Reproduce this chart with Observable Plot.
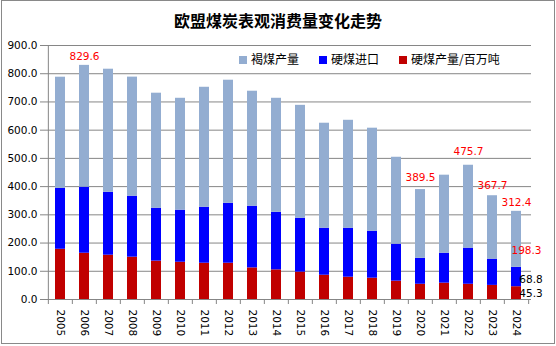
<!DOCTYPE html>
<html><head><meta charset="utf-8">
<script src="https://cdn.jsdelivr.net/npm/d3@7"></script>
<script src="https://cdn.jsdelivr.net/npm/@observablehq/plot@0.6"></script>
<style>
body{margin:0;background:#fff;}
#wrap{position:relative;width:556px;height:346px;overflow:hidden;background:#fff;}
#frame{position:absolute;left:1px;top:0px;width:552px;height:342px;border:1px solid #898989;pointer-events:none;}
#title{position:absolute;left:0;top:9px;width:556px;text-align:center;font-family:"Noto Sans CJK SC",sans-serif;font-weight:bold;font-size:16px;line-height:22px;color:#000;}
.lg{position:absolute;top:51px;height:16px;line-height:16px;font-family:"Noto Sans CJK SC",sans-serif;font-size:12px;color:#000;white-space:nowrap;}
.sw{display:inline-block;width:8px;height:8px;margin-right:4px;vertical-align:middle;position:relative;top:-1px;}
#chart{position:absolute;left:0;top:0;}
</style></head>
<body>
<div id="wrap">
  <div id="chart"></div>
  <div id="title">欧盟煤炭表观消费量变化走势</div>
  <div id="legend"></div>
  <div id="frame"></div>
</div>
<script>
const years = ["2005","2006","2007","2008","2009","2010","2011","2012","2013","2014",
               "2015","2016","2017","2018","2019","2020","2021","2022","2023","2024"];
const seriesNames = ["硬煤产量/百万吨", "硬煤进口", "褐煤产量"];
const seriesColors = ["#C00000", "#0000FF", "#93ADD1"];
// hard coal production (bottom, red)
const hardCoal = [178, 164, 157, 150, 136, 132, 128.6, 128.6, 112, 105,
                  97, 86, 79, 75.5, 65, 54, 58, 54, 50, 45.3];
// hard coal imports (middle, blue)
const imports = [216, 234, 223, 216, 187.5, 184.5, 198.4, 212.4, 218.6, 204,
                 191, 166.7, 173.7, 166.5, 131, 92, 106, 128, 93, 68.8];
// lignite production (top, light blue)
const lignite = [393.7, 431.6, 436, 422, 407.5, 396.5, 425, 436, 407.4, 404,
                 400, 371.9, 382.3, 365, 308, 243.5, 276.5, 293.7, 224.7, 198.3];
const totalLabelYears = ["2006", "2020", "2022", "2023", "2024"];
const yTicks = [0, 100, 200, 300, 400, 500, 600, 700, 800, 900];
const legendOrder = ["褐煤产量", "硬煤进口", "硬煤产量/百万吨"];

// label nudges (style only)
const totalLabelDy = {"2006": -8.5, "2020": -11.5, "2022": -14, "2023": -10, "2024": -8.5};

const fmt = d3.format(".1f");
const rows = [];
years.forEach((yr, i) => {
  [hardCoal, imports, lignite].forEach((arr, k) => rows.push({year: yr, series: seriesNames[k], value: arr[i]}));
});
const idx = y => years.indexOf(y);
const total = y => hardCoal[idx(y)] + imports[idx(y)] + lignite[idx(y)];
const lastYear = years[years.length - 1];
const li = years.length - 1;

const W = 556, H = 346, mL = 45, mR = 25, mT = 45, mB = 47;
const step = (W - mL - mR) / years.length;
const plotH = H - mT - mB;
const axisGray = "#868686";

const totalMarks = totalLabelYears.map(yr =>
  Plot.text([yr], {x: d => d, y: d => total(d), text: d => fmt(total(d)), dy: totalLabelDy[yr], fill: "#FF0000", fontSize: 10.5})
);

const chart = Plot.plot({
  width: W, height: H,
  marginLeft: mL, marginRight: mR, marginTop: mT, marginBottom: mB,
  style: {fontFamily: "'DejaVu Sans', sans-serif", fontSize: "10.5px", color: "#000", background: "transparent", overflow: "visible"},
  x: {type: "band", domain: years, paddingInner: 0.58, paddingOuter: 0.29},
  y: {domain: [0, 900]},
  color: {domain: seriesNames, range: seriesColors},
  marks: [
    Plot.gridY(yTicks.filter(d => d > 0), {stroke: axisGray, strokeOpacity: 1, strokeWidth: 1}),
    Plot.barY(rows, {x: "year", y: "value", fill: "series"}),
    Plot.ruleY([0], {stroke: axisGray}),
    Plot.ruleX([years[0]], {dx: -step / 2, stroke: axisGray}),
    Plot.ruleX(years, {dx: -step / 2, stroke: axisGray, insetTop: plotH, insetBottom: -5}),
    Plot.ruleX([lastYear], {dx: step / 2, stroke: axisGray, insetTop: plotH, insetBottom: -5}),
    Plot.axisY({ticks: yTicks, tickFormat: fmt, tickSize: 5, tickPadding: 3, stroke: axisGray, fill: "#000", label: null, fontSize: 10.5}),
    Plot.axisX({tickRotate: 90, tickSize: 0, tickPadding: 10, fill: "#000", label: null, fontSize: 10.5}),
    ...totalMarks,
    Plot.text([lastYear], {x: d => d, y: () => hardCoal[li] + imports[li], text: () => fmt(lignite[li]), dy: -17, dx: 10, fill: "#FF0000", fontSize: 10.5}),
    Plot.text([lastYear], {x: d => d, y: () => hardCoal[li], text: () => fmt(imports[li]), dy: -7.5, dx: 14.5, fill: "#000", fontSize: 10.5}),
    Plot.text([lastYear], {x: d => d, y: () => 0, text: () => fmt(hardCoal[li]), dy: -6, dx: 14.5, fill: "#000", fontSize: 10.5})
  ]
});
document.getElementById("chart").appendChild(chart);

const legendX = [239, 319, 399];
const lg = document.getElementById("legend");
legendOrder.forEach((name, i) => {
  const d = document.createElement("div");
  d.className = "lg";
  d.style.left = legendX[i] + "px";
  const sw = document.createElement("span");
  sw.className = "sw";
  sw.style.background = seriesColors[seriesNames.indexOf(name)];
  d.appendChild(sw);
  d.appendChild(document.createTextNode(name));
  lg.appendChild(d);
});
</script>
</body></html>
